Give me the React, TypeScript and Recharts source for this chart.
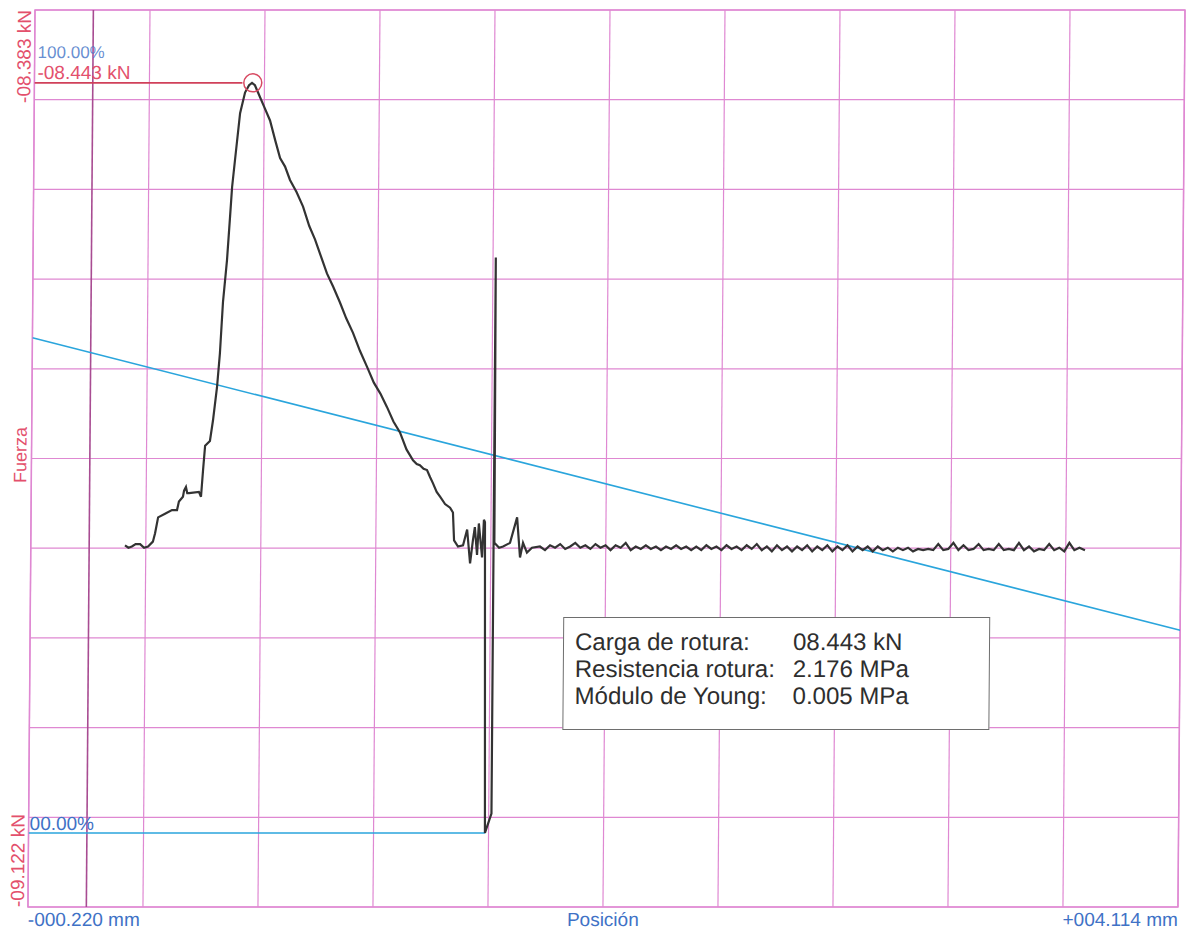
import React from 'react';
import { LineChart, Line, XAxis, YAxis, CartesianGrid, ReferenceLine, ReferenceDot, ReferenceArea } from 'recharts';

// axis range (mm / kN) and grid ticks
const xTicks = [-0.22, 0.2134, 0.6468, 1.0802, 1.5136, 1.947, 2.3804, 2.8138, 3.2472, 3.6806, 4.114];
const yTicks = [-9.122, -9.0481, -8.9742, -8.9003, -8.8264, -8.7525, -8.6786, -8.6047, -8.5308, -8.4569, -8.383];

// force vs position, [mm, kN]
const preload: [number, number][] = [
  [0.135, -8.824], [0.148, -8.826], [0.161, -8.825], [0.175, -8.823], [0.192, -8.823], [0.207, -8.826],
  [0.222, -8.825], [0.240, -8.821], [0.248, -8.814], [0.259, -8.801], [0.285, -8.798], [0.311, -8.795],
  [0.330, -8.795], [0.337, -8.788], [0.352, -8.784], [0.356, -8.779], [0.363, -8.776], [0.368, -8.781],
  [0.375, -8.781], [0.412, -8.780], [0.420, -8.784],
];

const loading: [number, number][] = [
  [0.427, -8.762], [0.434, -8.742], [0.452, -8.738], [0.463, -8.721], [0.477, -8.694], [0.487, -8.666],
  [0.497, -8.624], [0.511, -8.589], [0.521, -8.554], [0.528, -8.529], [0.538, -8.507], [0.556, -8.468],
  [0.574, -8.451], [0.589, -8.445], [0.600, -8.443],
];

const unloading: [number, number][] = [
  [0.611, -8.445], [0.623, -8.451], [0.645, -8.462], [0.669, -8.474], [0.690, -8.491], [0.708, -8.505],
  [0.727, -8.512], [0.746, -8.523], [0.771, -8.533], [0.796, -8.545], [0.820, -8.561], [0.842, -8.572],
  [0.865, -8.586], [0.888, -8.600], [0.912, -8.611], [0.938, -8.624], [0.962, -8.637], [0.988, -8.649],
  [1.015, -8.664], [1.042, -8.677], [1.068, -8.690], [1.093, -8.699], [1.118, -8.710], [1.143, -8.722],
  [1.168, -8.731], [1.193, -8.745], [1.218, -8.754], [1.232, -8.757], [1.244, -8.758], [1.258, -8.761],
  [1.271, -8.762], [1.283, -8.768], [1.294, -8.773], [1.308, -8.780], [1.321, -8.784], [1.340, -8.790],
  [1.359, -8.793], [1.370, -8.797],
];

const fracture: [number, number][] = [
  [1.375, -8.820], [1.390, -8.825], [1.409, -8.824], [1.424, -8.811], [1.436, -8.839], [1.446, -8.820],
  [1.453, -8.809], [1.462, -8.832], [1.468, -8.806], [1.481, -8.834], [1.487, -8.803], [1.491, -8.805],
  [1.500, -9.061], [1.524, -9.045], [1.524, -8.587], [1.527, -8.822], [1.545, -8.826], [1.560, -8.825],
  [1.586, -8.822], [1.612, -8.801], [1.624, -8.834], [1.635, -8.822], [1.650, -8.830], [1.669, -8.826],
];

const residual: [number, number][] = [
  [1.699, -8.825], [1.718, -8.828], [1.737, -8.824], [1.756, -8.826], [1.775, -8.823], [1.794, -8.827],
  [1.813, -8.825], [1.832, -8.822], [1.851, -8.826], [1.870, -8.824], [1.889, -8.827], [1.908, -8.823],
  [1.927, -8.826], [1.946, -8.824], [1.965, -8.828], [1.984, -8.824], [2.003, -8.826], [2.022, -8.822],
  [2.041, -8.828], [2.060, -8.825], [2.079, -8.827], [2.098, -8.824], [2.117, -8.827], [2.136, -8.825],
  [2.155, -8.828], [2.174, -8.825], [2.193, -8.827], [2.212, -8.824], [2.231, -8.827], [2.250, -8.825],
  [2.269, -8.828], [2.288, -8.825], [2.307, -8.828], [2.326, -8.824], [2.345, -8.827], [2.364, -8.825],
  [2.383, -8.828], [2.402, -8.824], [2.421, -8.827], [2.440, -8.825], [2.459, -8.828], [2.478, -8.824],
  [2.497, -8.827], [2.516, -8.823], [2.535, -8.828], [2.554, -8.825], [2.573, -8.829], [2.592, -8.824],
  [2.611, -8.828], [2.630, -8.825], [2.649, -8.829], [2.668, -8.825], [2.687, -8.828], [2.706, -8.824],
  [2.725, -8.829], [2.744, -8.825], [2.763, -8.828], [2.782, -8.824], [2.801, -8.829], [2.820, -8.825],
  [2.839, -8.828], [2.858, -8.824], [2.877, -8.829], [2.896, -8.825], [2.915, -8.828], [2.934, -8.825],
  [2.953, -8.829], [2.972, -8.825], [2.991, -8.828], [3.010, -8.826], [3.029, -8.829], [3.048, -8.826],
  [3.067, -8.828], [3.086, -8.826], [3.105, -8.829], [3.124, -8.827], [3.143, -8.828], [3.162, -8.827],
  [3.181, -8.828], [3.200, -8.823], [3.219, -8.828], [3.238, -8.827], [3.257, -8.822], [3.276, -8.828],
  [3.295, -8.824], [3.314, -8.828], [3.333, -8.827], [3.352, -8.823], [3.371, -8.828], [3.390, -8.827],
  [3.409, -8.828], [3.428, -8.823], [3.447, -8.828], [3.466, -8.827], [3.485, -8.828], [3.504, -8.822],
  [3.523, -8.828], [3.542, -8.825], [3.561, -8.829], [3.580, -8.827], [3.599, -8.828], [3.618, -8.823],
  [3.637, -8.828], [3.656, -8.826], [3.675, -8.829], [3.694, -8.822], [3.713, -8.828], [3.732, -8.826],
  [3.753, -8.828],
];

// Young's modulus line, zero-percent line, break load marker
const youngPos = [-0.22, 4.114];
const youngForce = [-8.653, -8.894];
const zeroPos = [-0.22, 1.5];
const zeroForce = -9.061;
const peakPos = 0.603;
const peakForce = -8.443;
const peakLineEnd = 0.564;

const legendLabels = ['Carga de rotura:', 'Resistencia rotura:', 'Módulo de Young:'];
const legendValues = ['08.443 kN', '2.176 MPa', '0.005 MPa'];

const toRows = (pts: [number, number][]) => pts.map(([pos, force]) => ({ pos, force }));
const curve = toRows([...preload, ...loading, ...unloading, ...fracture, ...residual]);
const youngLine = youngPos.map((pos, i) => ({ pos, force: youngForce[i] }));
const zeroLine = zeroPos.map((pos) => ({ pos, force: zeroForce }));
const peakLine = [{ pos: -0.22, force: peakForce }, { pos: peakLineEnd, force: peakForce }];

const GRID = '#df88d2';
const RED = '#e3506c';
const BLUE = '#3f72c6';
const CYAN = '#2aa5dc';
const FONT = '"Liberation Sans", Arial, sans-serif';

export default function App() {
  return (
    <div style={{ position: 'absolute', left: 0, top: 0, width: 1192, height: 931, background: '#fff', overflow: 'hidden' }}>
      {/* the scanned original is slightly sheared */}
      <div style={{ position: 'absolute', left: 0, top: 0, width: 1192, height: 931, transform: 'skewX(-0.45deg)', transformOrigin: '0px 10px' }}>
        <LineChart width={1192} height={931} margin={{ top: 10, right: 7, bottom: 24, left: 35 }}>
          <XAxis dataKey="pos" type="number" domain={[-0.22, 4.114]} ticks={xTicks} interval={0} hide allowDataOverflow />
          <YAxis type="number" domain={[-9.122, -8.383]} ticks={yTicks} interval={0} hide allowDataOverflow />
          <CartesianGrid stroke={GRID} strokeWidth={1.2} />
          <ReferenceArea x1={-0.22} x2={4.114} y1={-9.122} y2={-8.383} fill="none" stroke={GRID} strokeWidth={1.5} />
          <ReferenceLine x={0} stroke="#a84c92" strokeWidth={1.6} />
          <Line data={youngLine} dataKey="force" type="linear" stroke={CYAN} strokeWidth={1.6} dot={false} isAnimationActive={false} />
          <Line data={zeroLine} dataKey="force" type="linear" stroke={CYAN} strokeWidth={1.6} dot={false} isAnimationActive={false} />
          <Line data={peakLine} dataKey="force" type="linear" stroke="#d0405a" strokeWidth={1.6} dot={false} isAnimationActive={false} />
          <Line data={curve} dataKey="force" type="linear" stroke="#333333" strokeWidth={2.2} dot={false} isAnimationActive={false} />
          <ReferenceDot x={peakPos} y={peakForce} r={9} fill="none" stroke="#d84a62" strokeWidth={1.5} />
        </LineChart>

        <svg width={1192} height={931} style={{ position: 'absolute', left: 0, top: 0, pointerEvents: 'none' }} fontFamily={FONT}>
          <text transform="translate(31,10) rotate(-90)" textAnchor="end" fontSize={19} fill={RED}>-08.383 kN</text>
          <text transform="translate(31,907) rotate(-90)" textAnchor="start" fontSize={19} fill={RED}>-09.122 kN</text>
          <text transform="translate(30,455) rotate(-90)" textAnchor="middle" fontSize={18} fill={RED}>Fuerza</text>
          <text x={38} y={58} fontSize={17} fill={BLUE} fillOpacity={0.8}>100.00%</text>
          <text x={38} y={79} fontSize={19} fill={RED}>-08.443 kN</text>
          <text x={36} y={830} fontSize={19} fill={BLUE}>00.00%</text>
          <text x={35} y={926} fontSize={19} fill={BLUE}>-000.220 mm</text>
          <text x={610} y={926} fontSize={19} fill={BLUE} textAnchor="middle">Posición</text>
          <text x={1185} y={926} fontSize={19} fill={BLUE} textAnchor="end">+004.114 mm</text>
        </svg>

        <div
          style={{
            position: 'absolute', left: 568, top: 617, width: 427, height: 113, boxSizing: 'border-box',
            border: '1px solid #6e6e6e', background: '#fff', padding: '10px 0 0 11px',
            fontFamily: FONT, fontSize: 24, lineHeight: '27px', color: '#2e2e2e',
          }}
        >
          {legendLabels.map((label, i) => (
            <div key={label} style={{ display: 'flex', whiteSpace: 'nowrap' }}>
              <span style={{ width: 218 }}>{label}</span>
              <span>{legendValues[i]}</span>
            </div>
          ))}
        </div>
      </div>
    </div>
  );
}
